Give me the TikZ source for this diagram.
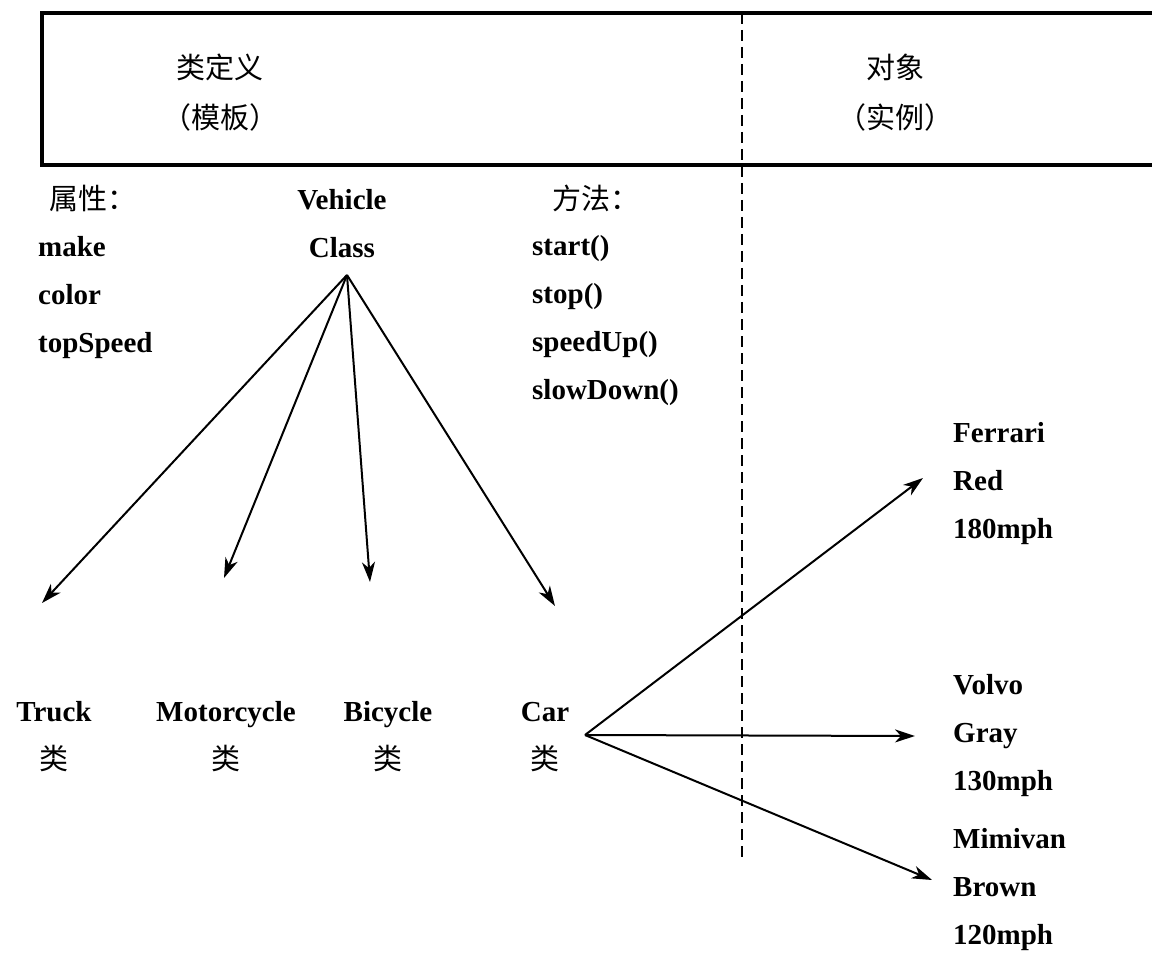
\documentclass[tikz,border=0pt]{standalone}
\usepackage{fontspec}
\setmainfont{Liberation Serif}
\newfontfamily\cjk{Noto Sans CJK SC}
\usetikzlibrary{arrows.meta, positioning}

\begin{document}
\begin{tikzpicture}[
    x=1pt, y=-1pt,
    label/.style={inner sep=0pt, font=\bfseries\fontsize{29}{48}\selectfont, align=center},
    list/.style={label, align=left, anchor=west},
    head/.style={inner sep=0pt, font=\cjk\fontsize{29}{50}\selectfont, align=center},
    arrow/.style={-{Stealth[length=20pt,width=13pt,inset=6pt]}, line width=2pt}
]
\useasboundingbox (0,0) rectangle (1152,960);

% Header box and divider
\draw[line width=3.5pt] (1152,13) -- (42,13) -- (42,165) -- (1152,165);
\draw[line width=2.4pt, dash pattern=on 11pt off 6pt] (742,13) -- (742,862);

\node[head] (template) at (220,93) {类定义\\（模板）};
\node[head] (instance) at (895,93) {对象\\（实例）};

% Class definition
\node[head] (attrhead) at (93,198) {属性：};
\node[list] (attrs) at (38,298) {make\\color\\topSpeed};
\node[label] (vehicle) at (342,224) {Vehicle\\Class};
\node[head] (methhead) at (596,198) {方法：};
\node[list] (meths) at (532,321) {start()\\stop()\\speedUp()\\slowDown()};

% Subclasses
\node[label] (truck) at (54,737) {Truck\\{\cjk\mdseries 类}};
\node[label] (moto) at (226,737) {Motorcycle\\{\cjk\mdseries 类}};
\node[label] (bike) at (388,737) {Bicycle\\{\cjk\mdseries 类}};
\node[label] (car) at (545,737) {Car\\{\cjk\mdseries 类}};

% Objects
\node[list] (ferrari) at (953,484) {Ferrari\\Red\\180mph};
\node[list] (volvo) at (953,736) {Volvo\\Gray\\130mph};
\node[list] (minivan) at (953,890) {Mimivan\\Brown\\120mph};

% Arrow ends
\coordinate (hub) at (347,275);
\coordinate (carhub) at (585,735);
\coordinate (toTruck) at (42,603);
\coordinate (toMoto) at (224,578);
\coordinate (toBike) at (370,582);
\coordinate (toCar) at (555,606);
\coordinate (toFerrari) at (923,478);
\coordinate (toVolvo) at (915,736);
\coordinate (toMinivan) at (932,880);

% Arrows
\draw[arrow] (hub) -- (toTruck);
\draw[arrow] (hub) -- (toMoto);
\draw[arrow] (hub) -- (toBike);
\draw[arrow] (hub) -- (toCar);
\draw[arrow] (carhub) -- (toFerrari);
\draw[arrow] (carhub) -- (toVolvo);
\draw[arrow] (carhub) -- (toMinivan);

\end{tikzpicture}
\end{document}
